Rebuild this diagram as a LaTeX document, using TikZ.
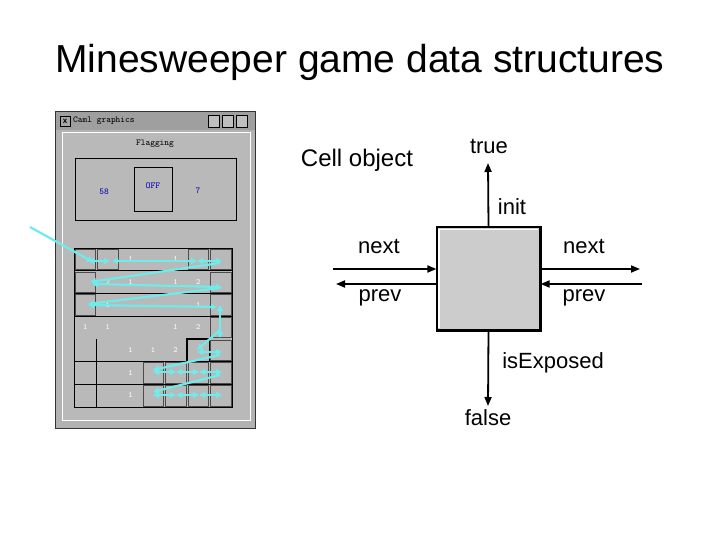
\documentclass[tikz,border=0pt]{standalone}
\usepackage{fontspec}
\setmainfont{Liberation Sans}
\usetikzlibrary{arrows.meta}
\definecolor{aqua}{RGB}{110,235,235}
\begin{document}
\begin{tikzpicture}[x=1pt,y=-1pt,
  lbl/.style={font=\fontsize{22}{26}\selectfont,inner sep=0pt},
  conn/.style={line width=1.8pt,-{Triangle[length=9pt,width=7pt]}},
  cyanline/.style={draw=aqua,line width=2.2pt},
  cyanone/.style={cyanline,-{Triangle[length=6pt,width=6pt]}},
  cyanarr/.style={cyanline,{Triangle[length=6pt,width=6pt]}-{Triangle[length=6pt,width=6pt]}},
  raised/.style={fill=gray!55,draw=black!70,line width=0.4pt},
  num/.style={font=\ttfamily\fontsize{8}{9}\selectfont,text=white,inner sep=0pt}]
\useasboundingbox (0,0) rectangle (720,540);
\node[font=\fontsize{39}{44}\selectfont,inner sep=0pt] (title) at (360,62) {Minesweeper game data structures};
% --- screenshot of window ---
\fill[black!80] (55,111) rectangle (256,429);
\fill[gray!60] (56,112) rectangle (255,428);
\fill[gray!75] (56,112) rectangle (255,130);
\node[font=\ttfamily\fontsize{9}{10}\selectfont,anchor=west,inner sep=0pt] (wtitle) at (73,121) {Caml graphics};
\draw[fill=gray!70] (60,116) rectangle (70,126);
\node[font=\bfseries\fontsize{8}{9}\selectfont,inner sep=0pt] (wx) at (65,121) {x};
\foreach \bx in {208,222,236}{\draw[fill=gray!50,line width=0.6pt] (\bx,115) rectangle (\bx+11,127);}
\draw[fill=gray!55,draw=white!80] (62,132) rectangle (250,420);
\node[font=\ttfamily\fontsize{9}{10}\selectfont,inner sep=0pt] (flag) at (155,144) {Flagging};
\draw[fill=gray!55,draw=black,line width=0.8pt] (75,158) rectangle (236,220);
\draw[fill=gray!55,draw=black,line width=0.8pt] (134,167) rectangle (172,211);
\node[font=\ttfamily\fontsize{9}{10}\selectfont,text=blue!70!black,inner sep=0pt] (off) at (153,186) {OFF};
\node[font=\ttfamily\fontsize{9}{10}\selectfont,text=blue!70!black,inner sep=0pt] (n58) at (104,192) {58};
\node[font=\ttfamily\fontsize{9}{10}\selectfont,text=blue!70!black,inner sep=0pt] (n7) at (198,191) {7};
% grid
\draw[fill=gray!55,line width=0.8pt] (74,248) rectangle (232,407);
\foreach \r in {1,2,3,5,6}{\draw[line width=0.6pt] (74,248+\r*22.7) -- (232,248+\r*22.7);}
\draw[line width=0.6pt] (96.6,338.8) -- (96.6,407);
\foreach \r/\c in {0/0,0/1,0/5,0/6,1/0,1/6,2/0,2/6,3/6,4/6,5/3,5/4,5/5,5/6,6/3,6/4,6/5,6/6}{
  \draw[raised] (74+\c*22.57+1,248+\r*22.7+1) rectangle (74+\c*22.57+21.5,248+\r*22.7+21.5);}
\draw[line width=1.4pt] (74+5*22.57,248+4*22.7) rectangle (74+6*22.57,248+5*22.7);
\foreach \r/\c/\t in {0/2/1,0/4/1,1/1/2,1/2/1,1/4/1,1/5/2,2/1/1,2/5/1,3/0/1,3/1/1,3/4/1,3/5/2,4/2/1,4/3/1,4/4/2,5/2/1,6/2/1}{
  \node[num] at (74+\c*22.57+11.3,248+\r*22.7+11.3) {\t};}
% cyan path
\draw[cyanone] (30,227) -- (93,262);
\draw[cyanarr] (88,261) -- (110,261);
\draw[cyanarr] (112,261) -- (197,261);
\draw[cyanarr] (197,261) -- (222,261);
\draw[cyanone] (220,263) -- (90,282);
\draw[cyanarr] (92,284) -- (222,287);
\draw[cyanone] (220,288) -- (88,304);
\draw[cyanarr] (88,305) -- (217,307);
\draw[cyanarr] (220,305) -- (220,338);
\draw[cyanone] (220,330) -- (197,350);
\draw[cyanarr] (197,352) -- (222,352);
\draw[cyanone] (220,355) -- (153,370);
\draw[cyanarr] (153,372) -- (176,372);
\draw[cyanarr] (176,372) -- (199,372);
\draw[cyanarr] (199,372) -- (222,372);
\draw[cyanone] (220,375) -- (153,392);
\draw[cyanarr] (153,395) -- (176,395);
\draw[cyanarr] (176,395) -- (199,395);
\draw[cyanarr] (199,395) -- (222,395);
% --- cell object diagram ---
\node[font=\fontsize{24}{28}\selectfont,inner sep=0pt] (cellobj) at (357,160) {Cell object};
\node[draw=black,line width=1.2pt,fill=gray!40,minimum width=103pt,minimum height=103pt,inner sep=0pt] (cell) at (488.5,278.5) {};
\draw[black,line width=2.5pt] (cell.south west) -- (cell.south east) -- (cell.north east);
\draw[white,line width=1.5pt] ([shift={(2.5,-3)}]cell.south west) -- ([shift={(2.5,3)}]cell.north west) -- ([shift={(-3,3)}]cell.north east);
\coordinate (up) at (488,163);
\coordinate (down) at (488,406);
\coordinate (l1) at (333,269);
\coordinate (l2) at (336,284);
\coordinate (r1) at (640,269);
\coordinate (r2) at (642,284);
\draw[conn] (cell.north) -- (up);
\draw[conn] (cell.south) -- (down);
\draw[conn] (l1) -- (l1 -| cell.west);
\draw[conn] (l2 -| cell.west) -- (l2);
\draw[conn] (r1 -| cell.east) -- (r1);
\draw[conn] (r2) -- (r2 -| cell.east);
\node[lbl] (true) at (489,146) {true};
\node[lbl] (false) at (488,418) {false};
\node[lbl] (init) at (512,207) {init};
\node[lbl] (isexp) at (553,363) {isExposed};
\node[lbl] (nextl) at (379,246) {next};
\node[lbl] (prevl) at (380,298) {prev};
\node[lbl] (nextr) at (584,246) {next};
\node[lbl] (prevr) at (584,298) {prev};
\end{tikzpicture}
\end{document}
